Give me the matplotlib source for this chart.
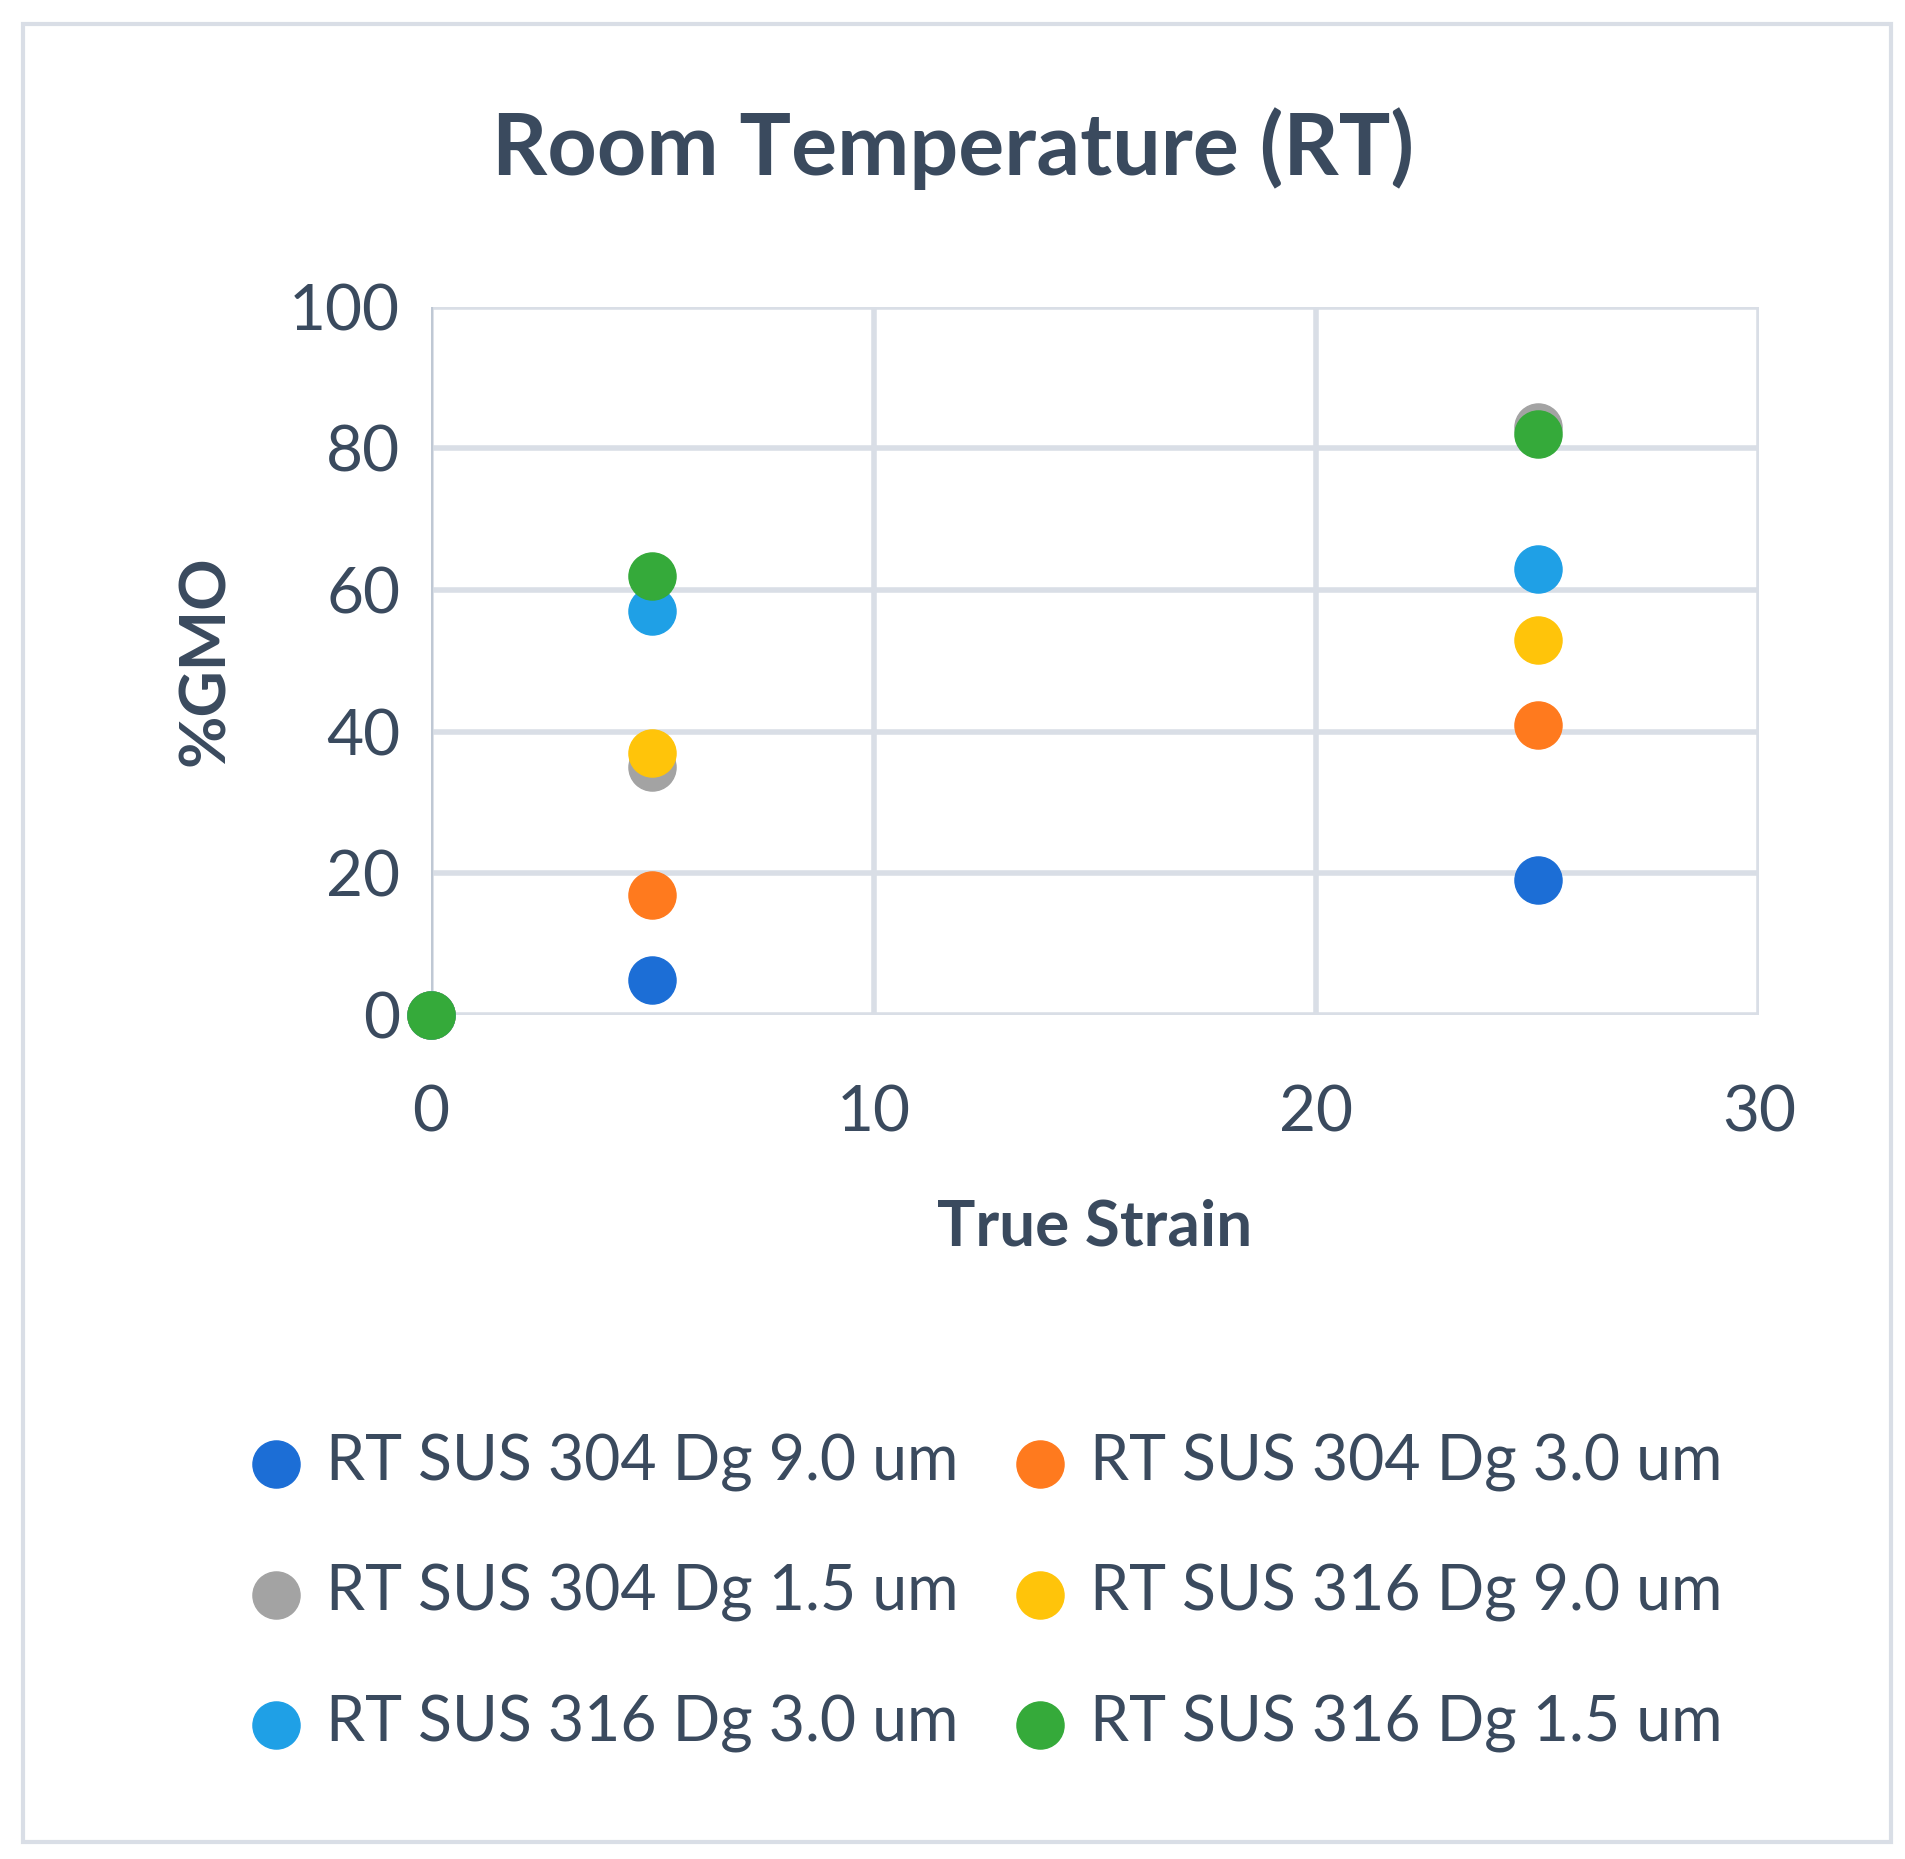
import matplotlib
matplotlib.use("Agg")
import matplotlib.pyplot as plt
from matplotlib.patches import Rectangle

strain = [0, 5, 25]
series = ["RT SUS 304 Dg 9.0 um", "RT SUS 304 Dg 3.0 um", "RT SUS 304 Dg 1.5 um",
          "RT SUS 316 Dg 9.0 um", "RT SUS 316 Dg 3.0 um", "RT SUS 316 Dg 1.5 um"]
gmo_304_90 = [0, 5, 19]
gmo_304_30 = [0, 17, 41]
gmo_304_15 = [0, 35, 83]
gmo_316_90 = [0, 37, 53]
gmo_316_30 = [0, 57, 63]
gmo_316_15 = [0, 62, 82]
values = [gmo_304_90, gmo_304_30, gmo_304_15, gmo_316_90, gmo_316_30, gmo_316_15]
colors = ["#1C6ED6", "#FF7A1E", "#A3A3A3", "#FFC40A", "#1FA0E6", "#35AA3A"]

txt = "#3A4A5E"
plt.rcParams['font.family'] = ['Lato', 'DejaVu Sans']
fig = plt.figure(figsize=(19.06, 18.59), dpi=100)
fig.patches.append(Rectangle((0.012, 0.009), 0.98, 0.978, transform=fig.transFigure,
                             fill=False, edgecolor="#D9DEE6", linewidth=3))
ax = fig.add_axes([0.226, 0.454, 0.697, 0.381])
for v, c, l in zip(values, colors, series):
    ax.scatter(strain, v, s=1150, color=c, label=l, zorder=3, clip_on=False)
ax.set_xlim(0, 30)
ax.set_ylim(0, 100)
ax.set_xticks([0, 10, 20, 30])
ax.set_yticks([0, 20, 40, 60, 80, 100])
ax.grid(True, color="#D9DEE6", linewidth=4)
ax.set_axisbelow(True)
for s in ax.spines.values():
    s.set_visible(False)
ax.axvline(0, color="#BFC8D4", linewidth=3, zorder=1)
ax.tick_params(length=0, labelsize=46, colors=txt, pad=22)
ax.tick_params(axis='x', pad=50)
ax.set_xlabel("True Strain", fontsize=46, fontweight="bold", color=txt, labelpad=40)
ax.set_ylabel("%GMO", fontsize=46, fontweight="bold", color=txt, labelpad=40)
fig.text(0.5, 0.92, "Room Temperature (RT)", ha="center", va="center",
         fontsize=62, fontweight="bold", color=txt)
h, l = ax.get_legend_handles_labels()
order = [0, 2, 4, 1, 3, 5]
fig.legend([h[i] for i in order], [l[i] for i in order],
           loc="center", bbox_to_anchor=(0.508, 0.143), ncol=2, frameon=False,
           fontsize=45, labelcolor=txt, handletextpad=-0.2, columnspacing=0.3,
           labelspacing=1.15, markerscale=1.0)
fig.savefig("out.png", dpi=100)
